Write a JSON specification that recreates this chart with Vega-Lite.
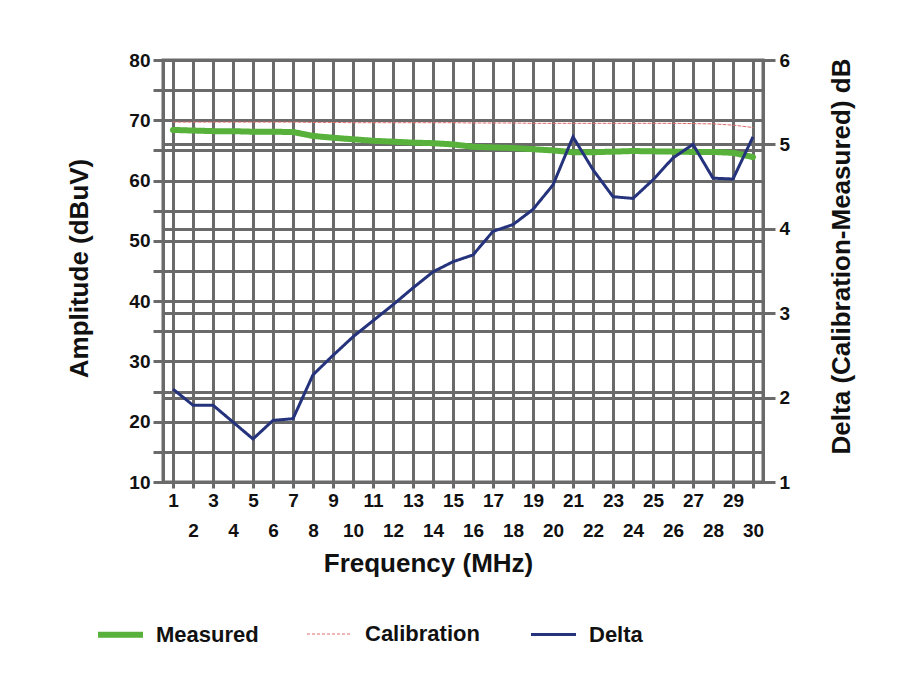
{
  "$schema": "https://vega.github.io/schema/vega-lite/v6.json",
  "width": 600,
  "height": 422,
  "autosize": "none",
  "padding": {"left": 163, "top": 60, "right": 134, "bottom": 204},
  "background": "white",
  "config": {
    "font": "Liberation Sans",
    "view": {"stroke": "#6a6a6a", "strokeWidth": 3},
    "axis": {
      "labelFont": "Liberation Sans",
      "labelFontWeight": "bold",
      "labelFontSize": 19,
      "labelColor": "#111111",
      "titleFont": "Liberation Sans",
      "titleFontWeight": "bold",
      "titleFontSize": 26,
      "titleColor": "#111111",
      "gridColor": "#6a6a6a",
      "gridWidth": 3,
      "gridOpacity": 1,
      "tickColor": "#6a6a6a",
      "tickWidth": 3,
      "domainColor": "#6a6a6a",
      "domainWidth": 3
    },
    "legend": {
      "orient": "none", "legendX": -68, "legendY": 549,
      "direction": "horizontal", "columns": 3,
      "symbolType": "stroke", "symbolSize": 2025,
      "labelFont": "Liberation Sans", "labelFontWeight": "bold", "labelFontSize": 22,
      "labelColor": "#111111", "labelOffset": 10, "columnPadding": 45
    }
  },
  "data": {
    "values": [
      {"n": 1, "series": "Measured", "value": 68.4},
      {"n": 2, "series": "Measured", "value": 68.3},
      {"n": 3, "series": "Measured", "value": 68.2},
      {"n": 4, "series": "Measured", "value": 68.2},
      {"n": 5, "series": "Measured", "value": 68.1},
      {"n": 6, "series": "Measured", "value": 68.1},
      {"n": 7, "series": "Measured", "value": 68.05},
      {"n": 8, "series": "Measured", "value": 67.4},
      {"n": 9, "series": "Measured", "value": 67.1},
      {"n": 10, "series": "Measured", "value": 66.85},
      {"n": 11, "series": "Measured", "value": 66.6},
      {"n": 12, "series": "Measured", "value": 66.45},
      {"n": 13, "series": "Measured", "value": 66.3},
      {"n": 14, "series": "Measured", "value": 66.2},
      {"n": 15, "series": "Measured", "value": 66.0},
      {"n": 16, "series": "Measured", "value": 65.6},
      {"n": 17, "series": "Measured", "value": 65.5},
      {"n": 18, "series": "Measured", "value": 65.4},
      {"n": 19, "series": "Measured", "value": 65.2},
      {"n": 20, "series": "Measured", "value": 65.0},
      {"n": 21, "series": "Measured", "value": 64.7},
      {"n": 22, "series": "Measured", "value": 64.7},
      {"n": 23, "series": "Measured", "value": 64.8},
      {"n": 24, "series": "Measured", "value": 64.9},
      {"n": 25, "series": "Measured", "value": 64.85},
      {"n": 26, "series": "Measured", "value": 64.8},
      {"n": 27, "series": "Measured", "value": 64.75},
      {"n": 28, "series": "Measured", "value": 64.75},
      {"n": 29, "series": "Measured", "value": 64.6},
      {"n": 30, "series": "Measured", "value": 63.9},
      {"n": 1, "series": "Calibration", "value": 69.7},
      {"n": 2, "series": "Calibration", "value": 69.7},
      {"n": 3, "series": "Calibration", "value": 69.7},
      {"n": 4, "series": "Calibration", "value": 69.7},
      {"n": 5, "series": "Calibration", "value": 69.7},
      {"n": 6, "series": "Calibration", "value": 69.7},
      {"n": 7, "series": "Calibration", "value": 69.7},
      {"n": 8, "series": "Calibration", "value": 69.65},
      {"n": 9, "series": "Calibration", "value": 69.65},
      {"n": 10, "series": "Calibration", "value": 69.6},
      {"n": 11, "series": "Calibration", "value": 69.6},
      {"n": 12, "series": "Calibration", "value": 69.6},
      {"n": 13, "series": "Calibration", "value": 69.6},
      {"n": 14, "series": "Calibration", "value": 69.6},
      {"n": 15, "series": "Calibration", "value": 69.6},
      {"n": 16, "series": "Calibration", "value": 69.55},
      {"n": 17, "series": "Calibration", "value": 69.55},
      {"n": 18, "series": "Calibration", "value": 69.55},
      {"n": 19, "series": "Calibration", "value": 69.5},
      {"n": 20, "series": "Calibration", "value": 69.5},
      {"n": 21, "series": "Calibration", "value": 69.5},
      {"n": 22, "series": "Calibration", "value": 69.5},
      {"n": 23, "series": "Calibration", "value": 69.5},
      {"n": 24, "series": "Calibration", "value": 69.5},
      {"n": 25, "series": "Calibration", "value": 69.5},
      {"n": 26, "series": "Calibration", "value": 69.5},
      {"n": 27, "series": "Calibration", "value": 69.45},
      {"n": 28, "series": "Calibration", "value": 69.4},
      {"n": 29, "series": "Calibration", "value": 69.2},
      {"n": 30, "series": "Calibration", "value": 68.8},
      {"n": 1, "series": "Delta", "value": 2.10},
      {"n": 2, "series": "Delta", "value": 1.91},
      {"n": 3, "series": "Delta", "value": 1.91},
      {"n": 4, "series": "Delta", "value": 1.71},
      {"n": 5, "series": "Delta", "value": 1.51},
      {"n": 6, "series": "Delta", "value": 1.73},
      {"n": 7, "series": "Delta", "value": 1.75},
      {"n": 8, "series": "Delta", "value": 2.27},
      {"n": 9, "series": "Delta", "value": 2.50},
      {"n": 10, "series": "Delta", "value": 2.72},
      {"n": 11, "series": "Delta", "value": 2.91},
      {"n": 12, "series": "Delta", "value": 3.10},
      {"n": 13, "series": "Delta", "value": 3.30},
      {"n": 14, "series": "Delta", "value": 3.49},
      {"n": 15, "series": "Delta", "value": 3.61},
      {"n": 16, "series": "Delta", "value": 3.69},
      {"n": 17, "series": "Delta", "value": 3.97},
      {"n": 18, "series": "Delta", "value": 4.05},
      {"n": 19, "series": "Delta", "value": 4.23},
      {"n": 20, "series": "Delta", "value": 4.52},
      {"n": 21, "series": "Delta", "value": 5.09},
      {"n": 22, "series": "Delta", "value": 4.70},
      {"n": 23, "series": "Delta", "value": 4.38},
      {"n": 24, "series": "Delta", "value": 4.36},
      {"n": 25, "series": "Delta", "value": 4.58},
      {"n": 26, "series": "Delta", "value": 4.84},
      {"n": 27, "series": "Delta", "value": 5.00},
      {"n": 28, "series": "Delta", "value": 4.60},
      {"n": 29, "series": "Delta", "value": 4.59},
      {"n": 30, "series": "Delta", "value": 5.09}
    ]
  },
  "layer": [
    {
      "transform": [{"filter": "datum.series != 'Delta'"}],
      "mark": {"type": "line", "strokeCap": "round"},
      "encoding": {
        "x": {
          "field": "n", "type": "ordinal",
          "scale": {"type": "point", "padding": 0.5},
          "axis": {
            "title": "Frequency (MHz)",
            "labelAngle": 0,
            "grid": true,
            "tickSize": 6,
            "labelPadding": 3,
            "labelLineHeight": 30,
            "labelExpr": "datum.value % 2 == 1 ? datum.label : ['', datum.label]",
            "titleX": 265,
            "titleY": 68,
            "titleBaseline": "top"
          }
        },
        "y": {
          "field": "value", "type": "quantitative",
          "scale": {"domain": [10, 80], "nice": false, "zero": false},
          "axis": {
            "title": "Amplitude (dBuV)",
            "values": [10, 15, 20, 25, 30, 35, 40, 45, 50, 55, 60, 65, 70, 75, 80],
            "labelExpr": "datum.value % 10 == 0 ? datum.label : ''",
            "grid": true,
            "tickSize": 10,
            "labelPadding": 3,
            "titleX": -84,
            "titleY": 208,
            "titleAngle": -90,
            "titleAlign": "center",
            "titleBaseline": "middle"
          }
        },
        "color": {
          "field": "series", "type": "nominal", "title": null,
          "scale": {"domain": ["Measured", "Calibration", "Delta"], "range": ["#57b13a", "#e06a6a", "#25327c"]}
        },
        "strokeDash": {
          "field": "series", "type": "nominal", "title": null,
          "scale": {"type": "ordinal", "domain": ["Measured", "Calibration", "Delta"], "range": [[1, 0], [3, 2], [1, 0]]}
        },
        "strokeWidth": {
          "field": "series", "type": "nominal", "title": null,
          "scale": {"type": "ordinal", "domain": ["Measured", "Calibration", "Delta"], "range": [6, 1, 3]}
        }
      }
    },
    {
      "transform": [{"filter": "datum.series == 'Delta'"}],
      "mark": {"type": "line"},
      "encoding": {
        "x": {"field": "n", "type": "ordinal", "scale": {"type": "point", "padding": 0.5}},
        "y": {
          "field": "value", "type": "quantitative",
          "scale": {"domain": [1, 6], "nice": false, "zero": false},
          "axis": {
            "orient": "right",
            "title": "Delta (Calibration-Measured) dB",
            "values": [1, 2, 3, 4, 5, 6],
            "grid": true,
            "tickSize": 12,
            "labelPadding": 4,
            "titleX": 78,
            "titleY": 196,
            "titleAngle": -90,
            "titleAlign": "center",
            "titleBaseline": "middle"
          }
        },
        "color": {
          "field": "series", "type": "nominal", "title": null,
          "scale": {"domain": ["Measured", "Calibration", "Delta"], "range": ["#57b13a", "#e06a6a", "#25327c"]}
        },
        "strokeDash": {
          "field": "series", "type": "nominal", "title": null,
          "scale": {"type": "ordinal", "domain": ["Measured", "Calibration", "Delta"], "range": [[1, 0], [3, 2], [1, 0]]}
        },
        "strokeWidth": {
          "field": "series", "type": "nominal", "title": null,
          "scale": {"type": "ordinal", "domain": ["Measured", "Calibration", "Delta"], "range": [6, 1, 3]}
        }
      }
    }
  ],
  "resolve": {"scale": {"y": "independent"}}
}
